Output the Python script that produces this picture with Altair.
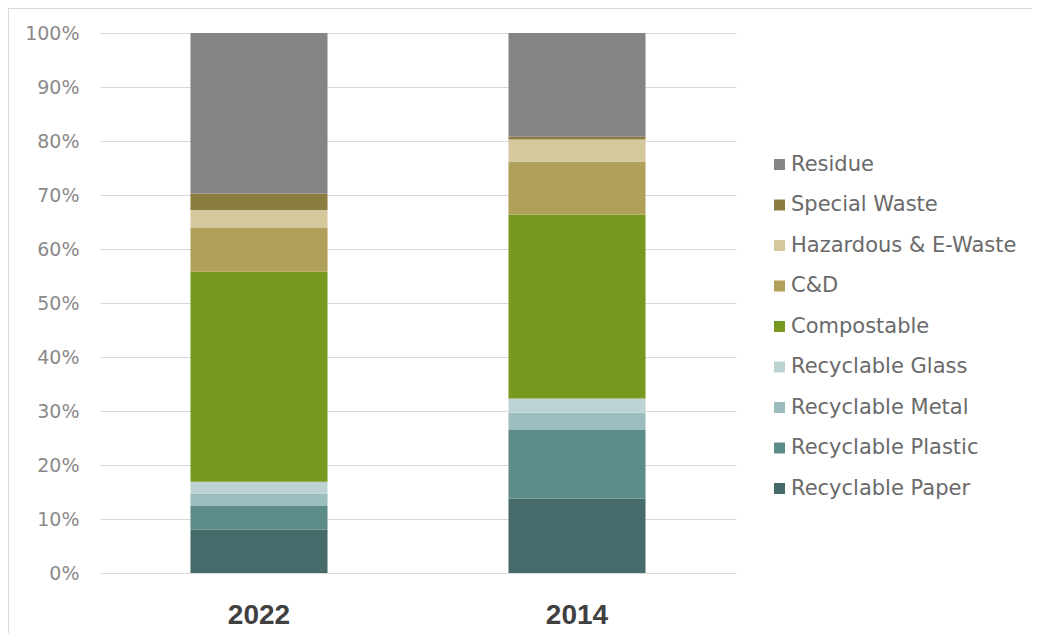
import altair as alt
import pandas as pd

years = ["2022", "2014"]
categories = ["Recyclable Paper", "Recyclable Plastic", "Recyclable Metal", "Recyclable Glass",
              "Compostable", "C&D", "Hazardous & E-Waste", "Special Waste", "Residue"]
colors = ["#476A6A", "#5C8C88", "#9BBDBD", "#BDD3D3", "#77991F", "#B0A05A", "#D4C89C", "#8B7D3F", "#858585"]
share_2022 = [8.0, 4.4, 2.3, 2.2, 38.9, 8.2, 3.2, 3.1, 29.7]
share_2014 = [13.8, 12.7, 3.2, 2.6, 34.1, 9.8, 4.1, 0.5, 19.2]

rows = []
for year, vals in zip(years, [share_2022, share_2014]):
    for i, (cat, v) in enumerate(zip(categories, vals)):
        rows.append({"year": year, "category": cat, "share": v / 100.0, "order": i})
df = pd.DataFrame(rows)

legend_order = list(reversed(categories))
legend_colors = list(reversed(colors))

label_font = "DejaVu Sans"

bars = alt.Chart(df).mark_bar().encode(
    x=alt.X("year:N", sort=years, title=None,
            scale=alt.Scale(paddingInner=0.569, paddingOuter=0.2845),
            axis=alt.Axis(labelAngle=0, labelFont="Liberation Sans", labelFontWeight="bold",
                          labelFontSize=28, labelColor="#404040", labelPadding=28,
                          ticks=False, domain=False, grid=False)),
    y=alt.Y("sum(share):Q", stack="zero", title=None,
            scale=alt.Scale(domain=[0, 1], nice=False),
            axis=alt.Axis(format=".0%", values=[i / 10 for i in range(11)],
                          labelFont=label_font, labelFontSize=19, labelColor="#8a8a8a",
                          labelPadding=21, ticks=False, domain=False,
                          grid=True, gridColor="#d9d9d9", gridWidth=1.2)),
    color=alt.Color("category:N", scale=alt.Scale(domain=legend_order, range=legend_colors),
                    title=None,
                    legend=alt.Legend(orient="none", legendX=669, legendY=121,
                                      symbolType="square", symbolSize=121, symbolStrokeWidth=0,
                                      labelFont=label_font, labelFontSize=21, labelColor="#6a6a6a",
                                      labelOffset=1, rowPadding=18.5, labelLimit=400)),
    order=alt.Order("order:Q", sort="ascending"),
)

frame_top = alt.Chart(df).mark_rule(color="#d9d9d9", strokeWidth=1.5).encode(
    x=alt.value(-92), x2=alt.value(940), y=alt.value(-25))
frame_left = alt.Chart(df).mark_rule(color="#d9d9d9", strokeWidth=1.5).encode(
    x=alt.value(-92), y=alt.value(-25), y2=alt.value(700))

chart = alt.layer(bars, frame_top, frame_left).properties(
    width=636, height=540,
    background="white",
    autosize=alt.AutoSizeParams(type="none"),
    padding={"left": 92, "top": 25, "right": 296, "bottom": 60},
).configure_view(strokeWidth=0, stroke="transparent")

chart.save("out.html", embed_options={"renderer": "svg", "actions": False})
